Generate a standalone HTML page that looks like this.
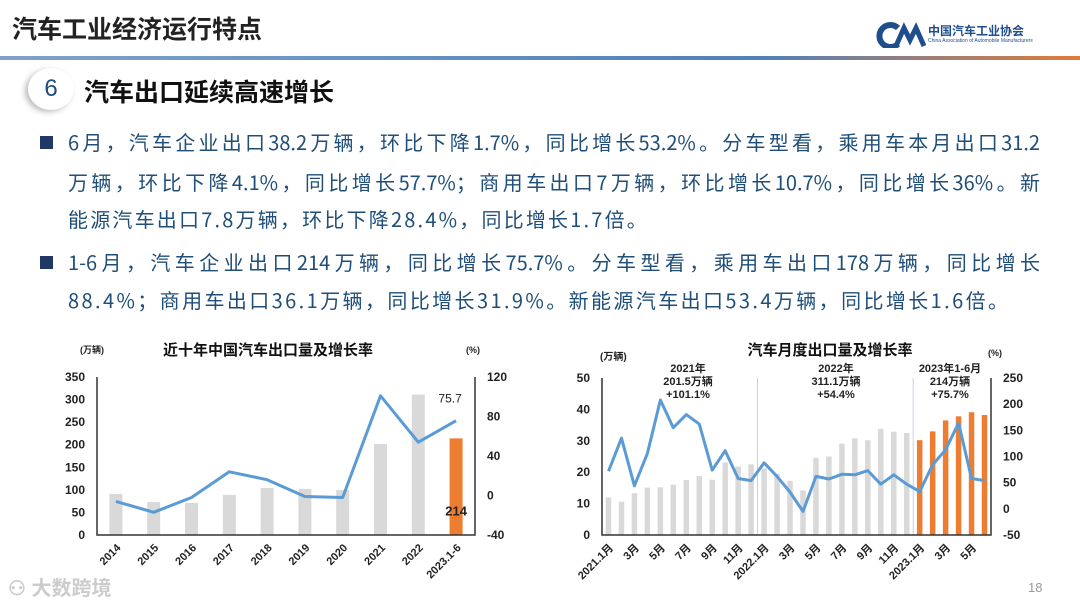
<!DOCTYPE html>
<html><head><meta charset="utf-8">
<style>
*{margin:0;padding:0;box-sizing:border-box}
body{width:1080px;height:607px;background:#fff;position:relative;overflow:hidden;font-family:"Liberation Sans","Noto Sans CJK SC",sans-serif}
.abs{position:absolute}
.line{position:absolute;left:68px;width:972px;font-size:20px;color:#1f4e79;white-space:nowrap;line-height:24px;font-family:"Noto Sans CJK SC",sans-serif}
.j{text-align:justify;text-align-last:justify}
.sq{position:absolute;left:40px;width:13px;height:13px;background:#1f3864}
svg text{font-family:"Liberation Sans","Noto Sans CJK SC",sans-serif}
</style></head><body>
<div class="abs" style="left:12px;top:10px;font-size:25px;font-weight:bold;color:#222">汽车工业经济运行特点</div>
<div class="abs" style="left:0;top:56px;width:1080px;height:4px;background:linear-gradient(90deg,#7fa3c8,#4f81bd 70%,#e07b39)"></div>
<div class="abs" style="left:876px;top:22px;width:180px;height:28px">
 <svg width="50" height="26" style="position:absolute;left:0;top:0"><path d="M22 6 A11 11 0 1 0 22 22" stroke="#1f4e8c" stroke-width="6" fill="none"/><path d="M20 24 L28 6 L34 18 L40 6 L48 24" stroke="#1f4e8c" stroke-width="5" fill="none"/></svg>
 <div style="position:absolute;left:52px;top:0;font-size:12px;font-weight:bold;color:#1f4e8c">中国汽车工业协会</div>
 <div style="position:absolute;left:52px;top:16px;font-size:5px;color:#1f4e8c">China Association of Automobile Manufacturers</div>
</div>
<div class="abs" style="left:28px;top:68px;width:46px;height:42px;border-radius:50%;background:#fff;box-shadow:-3px 2px 6px #bbb;font-size:24px;color:#1f4e79;text-align:center;line-height:42px">6</div>
<div class="abs" style="left:84px;top:73px;font-size:25px;font-weight:bold;color:#111">汽车出口延续高速增长</div>

<div class="sq" style="top:136px"></div>
<div class="line j" style="top:130px">6月，汽车企业出口38.2万辆，环比下降1.7%，同比增长53.2%。分车型看，乘用车本月出口31.2</div>
<div class="line j" style="top:170px">万辆，环比下降4.1%，同比增长57.7%；商用车出口7万辆，环比增长10.7%，同比增长36%。新</div>
<div class="line" style="top:207px;letter-spacing:2.2px">能源汽车出口7.8万辆，环比下降28.4%，同比增长1.7倍。</div>
<div class="sq" style="top:256px"></div>
<div class="line j" style="top:250px">1-6月，汽车企业出口214万辆，同比增长75.7%。分车型看，乘用车出口178万辆，同比增长</div>
<div class="line" style="top:288px;letter-spacing:2.4px">88.4%；商用车出口36.1万辆，同比增长31.9%。新能源汽车出口53.4万辆，同比增长1.6倍。</div>

<svg id="c1" class="abs" style="left:0;top:0" width="1080" height="607"></svg>
<div class="abs" style="left:8px;top:572px;font-size:20px;color:#ccc;font-weight:bold">⚇ 大数跨境</div>
<div class="abs" style="left:1028px;top:580px;font-size:13px;color:#999">18</div>

<script>
// Chart 1 data
const years=["2014","2015","2016","2017","2018","2019","2020","2021","2022","2023.1-6"];
const annualVol=[91,73,71,89,104,102,100,201.5,311,214];
const annualRate=[-6,-17,-2,24,16,-1,-2,101,54,75.7];
const c1LeftTicks=[0,50,100,150,200,250,300,350];
const c1RightTicks=[-40,0,40,80,120];
// Chart 2 data
const months=["2021.1月","2月","3月","4月","5月","6月","7月","8月","9月","10月","11月","12月","2022.1月","2月","3月","4月","5月","6月","7月","8月","9月","10月","11月","12月","2023.1月","2月","3月","4月","5月","6月"];
const monthVol=[12,10.6,13.3,15.1,15.2,16,17.5,18.8,17.6,23.1,21.8,22.5,21.2,19.5,17.2,14.2,24.6,25,29.1,30.8,30.2,33.8,32.9,32.5,30.2,33,36.5,37.8,39.1,38.2];
const monthRate=[72,135,44,106,208,155,180,162,74,111,58,54,88,62,32,-5,62,57,66,65,73,47,65,47,33,84,113,164,58,54];
const c2LeftTicks=[0,10,20,30,40,50];
const c2RightTicks=[-50,0,50,100,150,200,250];

const svg=document.getElementById('c1');
const NS='http://www.w3.org/2000/svg';
function mk(tag,attrs,txt){const e=document.createElementNS(NS,tag);for(const k in attrs)e.setAttribute(k,attrs[k]);if(txt!==undefined)e.textContent=txt;svg.appendChild(e);return e;}

function drawChart(o){
  const {x0,x1,yTop,yBot,lMax,rMin,rMax,cats,vol,rate,lt,rt,orangeFrom,bw,prefix,showLabel}=o;
  const band=(x1-x0)/cats.length;
  const xc=i=>x0+band*(i+0.5);
  const yl=v=>yBot-(v/lMax)*(yBot-yTop);
  const yr=v=>yBot-((v-rMin)/(rMax-rMin))*(yBot-yTop);
  vol.forEach((v,i)=>{
    const r=mk('rect',{x:xc(i)-bw/2,y:yl(v),width:bw,height:yBot-yl(v),fill:i>=orangeFrom?'#ed7d31':'#d9d9d9'});
    
    
  });
  if(o.seps){o.seps.forEach(i=>{const l=mk('line',{x1:x0+band*i,x2:x0+band*i,y1:yTop,y2:yBot,stroke:'#b4c7e7','stroke-width':0.8});
    });}
  const pts=rate.map((v,i)=>xc(i).toFixed(1)+','+yr(v).toFixed(1)).join(' ');
  const pl=mk('polyline',{points:pts,fill:'none',stroke:'#5b9bd5','stroke-width':3,'stroke-linejoin':'round'});
  
  
  const ax=mk('path',{d:`M${x0},${yTop} V${yBot} H${x1} V${yTop}`,fill:'none',stroke:'#333','stroke-width':1.5});
  
  lt.forEach(t=>{const e=mk('text',{x:x0-12,y:yl(t)+4,'text-anchor':'end','font-size':12,'font-weight':'bold',fill:'#222'},t);
    });
  rt.forEach(t=>{const e=mk('text',{x:x1+12,y:yr(t)+4,'text-anchor':'start','font-size':12,'font-weight':'bold',fill:'#222'},t);
    });
  cats.forEach((c,i)=>{ if(!showLabel(i))return;
    const x=xc(i),y=yBot+8;
    const e=mk('text',{x:x,y:y,'text-anchor':'end','font-size':11,'font-weight':'bold',fill:'#222',transform:`rotate(-45 ${x} ${y})`,dy:'0.7em'},c);
    });
  return {xc,yl,yr};
}
const a=drawChart({x0:97,x1:475,yTop:377,yBot:535,lMax:350,rMin:-40,rMax:120,cats:years,vol:annualVol,rate:annualRate,lt:c1LeftTicks,rt:c1RightTicks,orangeFrom:9,bw:13,prefix:'annual',showLabel:()=>true});
let t;
t=mk('text',{x:a.xc(9),y:a.yl(annualVol[9])+77,'text-anchor':'middle','font-size':13,'font-weight':'bold',fill:'#222'},String(annualVol[9]));

t=mk('text',{x:a.xc(9)-6,y:a.yr(annualRate[9])-18,'text-anchor':'middle','font-size':12,fill:'#222'},String(annualRate[9]));

t=mk('text',{x:268,y:355,'text-anchor':'middle','font-size':15,'font-weight':'bold',fill:'#111'},'近十年中国汽车出口量及增长率');

t=mk('text',{x:80,y:353,'font-size':9,'font-weight':'bold',fill:'#222'},'(万辆)');

t=mk('text',{x:466,y:353,'font-size':9,'font-weight':'bold',fill:'#222'},'(%)');


const b=drawChart({x0:602,x1:991,yTop:378,yBot:535,lMax:50,rMin:-50,rMax:250,cats:months,vol:monthVol,rate:monthRate,lt:c2LeftTicks,rt:c2RightTicks,orangeFrom:24,bw:5.5,prefix:'monthly',seps:[12,24],showLabel:i=>i%2===0});
t=mk('text',{x:830,y:355,'text-anchor':'middle','font-size':15,'font-weight':'bold',fill:'#111'},'汽车月度出口量及增长率');

t=mk('text',{x:600,y:360,'font-size':10,'font-weight':'bold',fill:'#222'},'(万辆)');

t=mk('text',{x:988,y:356,'font-size':9,'font-weight':'bold',fill:'#222'},'(%)');

const ann=[[688,['2021年','201.5万辆','+101.1%']],[836,['2022年','311.1万辆','+54.4%']],[950,['2023年1-6月','214万辆','+75.7%']]];
ann.forEach(([x,ls])=>ls.forEach((s,k)=>{const e=mk('text',{x:x,y:372+k*13,'text-anchor':'middle','font-size':11,'font-weight':'bold',fill:'#222'},s);
  }));
</script>
</body></html>
